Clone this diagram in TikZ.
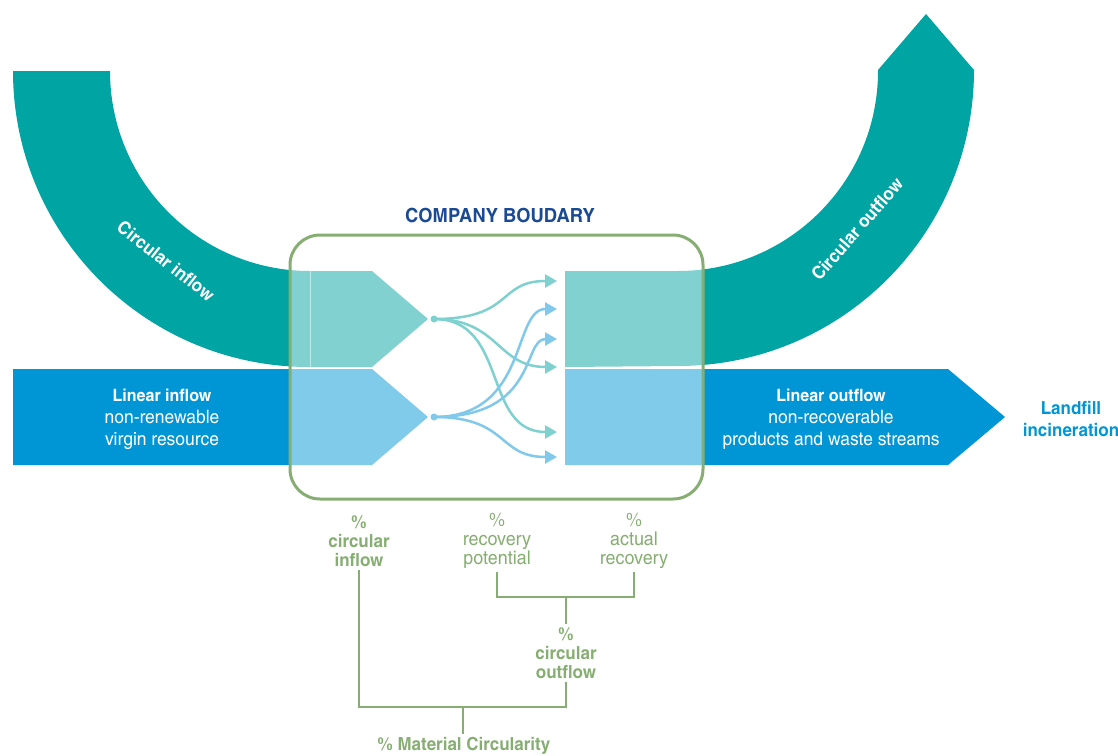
\documentclass[tikz,border=0pt]{standalone}
\usepackage{fontspec}
\setmainfont{texgyreheroscn}[Extension=.otf,UprightFont=*-regular,BoldFont=*-bold,FakeStretch=1.15]
\usetikzlibrary{arrows.meta}
\definecolor{flowteal}{HTML}{00A4A2}
\definecolor{flowblue}{HTML}{0096D6}
\definecolor{lightteal}{HTML}{7FD1CF}
\definecolor{lightblue}{HTML}{80C9EB}
\definecolor{boundgreen}{HTML}{86AE72}
\definecolor{titleblue}{HTML}{1B4A94}
\newcommand{\flowhead}[1]{{\bfseries\fontsize{17}{22}\selectfont #1}}
\tikzset{
  flowlabel/.style={text=white,align=center,font=\fontsize{18.5}{22}\selectfont},
  arclabel/.style={text=white,font=\bfseries\fontsize{18}{18}\selectfont},
  pctbold/.style={text=boundgreen,align=center,inner sep=3pt,font=\bfseries\fontsize{18}{19}\selectfont},
  pctplain/.style={text=boundgreen,align=center,inner sep=3pt,font=\fontsize{19}{19}\selectfont},
  bracket/.style={boundgreen,line width=2.5pt},
  splitarrow/.style={line width=2.5pt,-{Triangle[length=12pt,width=13pt]}}
}
\begin{document}
\begin{tikzpicture}[x=1pt,y=-1pt]
  \useasboundingbox (0,0) rectangle (1118,755);
  % flows
  \fill [flowteal] (13,71) arc[start angle=180,end angle=270,radius=296pt]
    -- (372,367) -- (428,319) -- (372,271) -- (310,271)
    arc[start angle=270,end angle=180,radius=200pt] -- cycle;
  \fill [flowblue] (13,369) -- (372,369) -- (428,417) -- (372,465) -- (13,465) -- cycle;
  \fill [flowteal] (565,271) -- (678,271) arc[start angle=-90,end angle=0,radius=200pt]
    -- (878,70) -- (926,14) -- (974,70)
    arc[start angle=0,end angle=-90,radius=296pt] -- (565,367) -- cycle;
  \fill [flowblue] (565,369) -- (948,369) -- (1005,417) -- (948,465) -- (565,465) -- cycle;
  % company boundary
  \fill [white,opacity=0.5,rounded corners=30pt] (290,235) rectangle (703,499);
  \draw [white,opacity=0.5,line width=0.8pt] (310,271) -- (310,367);
  \draw [boundgreen,line width=3pt,rounded corners=30pt] (290,235) rectangle (703,499);
  \node [text=titleblue,font=\bfseries\fontsize{19.5}{19.5}\selectfont] (boundary) at (500,215) {COMPANY BOUDARY};
  % splitting arrows
  \coordinate (tealdot) at (434,319);
  \coordinate (bluedot) at (434,417);
  \coordinate (t1) at (557,281);
  \coordinate (b1) at (557,309);
  \coordinate (b2) at (557,339);
  \coordinate (t2) at (557,367);
  \coordinate (t3) at (557,432);
  \coordinate (b3) at (557,457);
  \draw [splitarrow,lightteal] (tealdot) .. controls +(80,0) and +(-60,0) .. (t1);
  \draw [splitarrow,lightteal] (tealdot) .. controls +(65,0) and +(-60,0) .. (t2);
  \draw [splitarrow,lightteal] (tealdot) .. controls +(75,0) and +(-75,0) .. (t3);
  \draw [splitarrow,lightblue] (bluedot) .. controls +(95,0) and +(-45,0) .. (b1);
  \draw [splitarrow,lightblue] (bluedot) .. controls +(105,0) and +(-35,0) .. (b2);
  \draw [splitarrow,lightblue] (bluedot) .. controls +(75,0) and +(-60,0) .. (b3);
  \fill [lightteal] (tealdot) circle (3.5pt);
  \fill [lightblue] (bluedot) circle (3.5pt);
  % labels on the flows
  \node [arclabel,rotate=-38] (cinlabel) at (166,261) {Circular inflow};
  \node [arclabel,rotate=49] (coutlabel) at (857,229) {Circular outflow};
  \node [flowlabel] (linin) at (162,419) {\flowhead{Linear inflow}\\non-renewable\\virgin resource};
  \node [flowlabel] (linout) at (831,419) {\flowhead{Linear outflow}\\non-recoverable\\products and waste streams};
  \node [text=flowblue,align=center,font=\bfseries\fontsize{18}{22}\selectfont] (landfill) at (1071,419) {Landfill\\incineration};
  % indicators
  \node [pctbold] (cin) at (359,541) {\%\\circular\\inflow};
  \node [pctplain] (rpot) at (497,541) {\%\\recovery\\potential};
  \node [pctplain] (arec) at (634,541) {\%\\actual\\recovery};
  \node [pctbold] (cout) at (566,653) {\%\\circular\\outflow};
  \node [pctbold] (mci) at (464,746) {\% Material Circularity};
  \coordinate (cojoin) at (566,597);
  \coordinate (mcijoin) at (463,707);
  \draw [bracket] (rpot.south) |- (cojoin) -| (arec.south);
  \draw [bracket] (cojoin) -- (cout.north);
  \draw [bracket] (cin.south) |- (mcijoin) -| (cout.south);
  \draw [bracket] (mcijoin) -- (mcijoin |- mci.north);
\end{tikzpicture}
\end{document}
